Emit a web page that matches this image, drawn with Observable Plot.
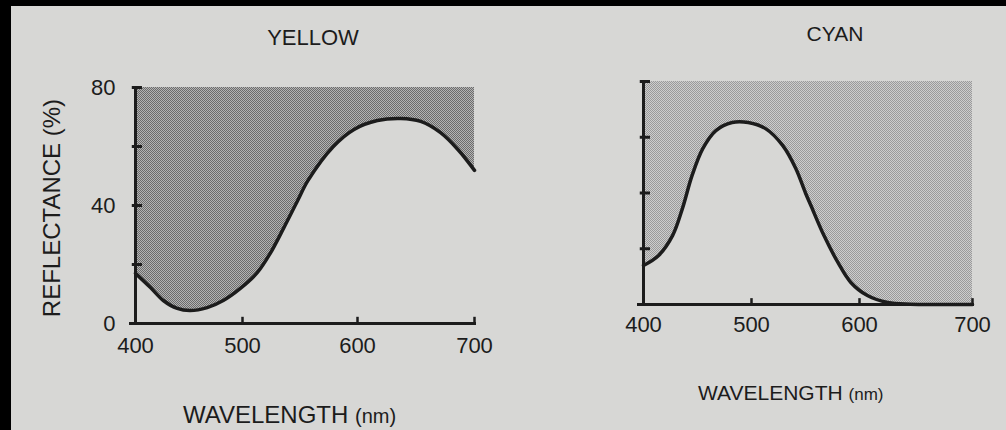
<!DOCTYPE html>
<html>
<head>
<meta charset="utf-8">
<script src="https://cdn.jsdelivr.net/npm/d3@7"></script>
<script src="https://cdn.jsdelivr.net/npm/@observablehq/plot@0.6"></script>
<style>
  html, body { margin: 0; padding: 0; background: #000; }
  #wrap { position: relative; width: 1006px; height: 430px; background: #000; overflow: hidden; }
  #page { position: absolute; left: 11px; top: 6px; right: 0; bottom: 0; background: #d7d7d5; }
  .chart { position: absolute; top: 0; }
  #labels { position: absolute; left: 0; top: 0; pointer-events: none; }
  #labels text { font-family: "Liberation Sans", Arial, Helvetica, sans-serif; fill: #1c1c1c; }
</style>
</head>
<body>
<div id="wrap">
  <div id="page"></div>
  <div id="yellow" class="chart" style="left:0px"></div>
  <div id="cyan" class="chart" style="left:500px"></div>
  <svg id="labels" width="1006" height="430">
    <text x="313" y="45" text-anchor="middle" font-size="22">YELLOW</text>
    <text x="835" y="41" text-anchor="middle" font-size="21">CYAN</text>
    <text transform="translate(60,208) rotate(-90)" text-anchor="middle" font-size="24">REFLECTANCE (%)</text>
    <text x="183" y="423" font-size="24">WAVELENGTH <tspan font-size="20">(nm)</tspan></text>
    <text x="698" y="400" font-size="21">WAVELENGTH <tspan font-size="17">(nm)</tspan></text>
  </svg>
</div>
<script>
// ---------- data ----------
const yellowNm   = [400, 414, 426, 439, 451, 467, 482, 498, 513, 524, 536, 548, 557, 579, 597, 617, 637, 654, 671, 686, 700];
const yellowRefl = [17, 12.2, 7.8, 5.1, 4.4, 5.4, 7.8, 11.9, 17.3, 23.7, 32.5, 41.7, 48.5, 60, 65.8, 68.8, 69.5, 68.5, 64.7, 58.9, 51.9];

const cyanNm   = [400, 414, 427, 436, 445, 455, 467, 482, 497, 513, 529, 541, 550, 555, 567, 580, 592, 607, 625, 645, 670, 700];
const cyanRefl = [14, 17.6, 24.8, 34.4, 46.3, 56, 62.4, 65.3, 65.3, 63.1, 57, 48.8, 40, 35.5, 24.8, 15.1, 7.9, 3.2, 0.7, 0.1, 0, 0];

const xTickValues   = [400, 500, 600, 700];
const xTickMarks    = [500, 600, 700];
const yTickMarks    = [0, 20, 40, 60, 80];
const yTickLabels   = [0, 40, 80];
const reflDomain    = [0, 80];

const yellowRows = yellowNm.map((nm, i) => ({nm, refl: yellowRefl[i]}));
const cyanRows   = cyanNm.map((nm, i) => ({nm, refl: cyanRefl[i]}));

// tick lengths, in data units
const yTickOut = 3, yTickIn = 6.5;  // nm
const xTickUp = 2.1;                // % reflectance

const ink = "#1c1c1c";
const fontFamily = "'Liberation Sans', Arial, Helvetica, sans-serif";

function addPattern(svg, id, dark, light) {
  const ns = "http://www.w3.org/2000/svg";
  const defs = document.createElementNS(ns, "defs");
  defs.innerHTML =
    `<pattern id="${id}" width="2" height="2" patternUnits="userSpaceOnUse">` +
    `<rect width="2" height="2" fill="${light}"/>` +
    `<rect x="0" y="0" width="1" height="1" fill="${dark}"/>` +
    `<rect x="1" y="1" width="1" height="1" fill="${dark}"/>` +
    `</pattern>`;
  svg.insertBefore(defs, svg.firstChild);
}

function makeChart({rows, width, margin, xRange, patternId, dark, light, showYLabels, xPad}) {
  const x0 = xTickValues[0];
  const marks = [
    Plot.areaY(rows, {x: "nm", y1: "refl", y2: () => reflDomain[1], fill: `url(#${patternId})`, curve: "catmull-rom"}),
    Plot.ruleX([x0], {stroke: ink, strokeWidth: 3}),
    Plot.ruleY([reflDomain[0]], {stroke: ink, strokeWidth: 3, insetLeft: -6, insetRight: -2}),
    // tick marks across the y axis
    Plot.ruleY(yTickMarks, {y: d => d, x1: x0 - yTickOut, x2: x0 + yTickIn, stroke: ink, strokeWidth: 3}),
    // upward tick marks on the x axis
    Plot.ruleX(xTickMarks, {x: d => d, y1: reflDomain[0], y2: reflDomain[0] + xTickUp, stroke: ink, strokeWidth: 2.5}),
    Plot.axisX({ticks: xTickValues, tickSize: 0, tickPadding: xPad, fill: ink, label: null}),
    Plot.line(rows, {x: "nm", y: "refl", stroke: ink, strokeWidth: 3.5, curve: "catmull-rom"})
  ];
  if (showYLabels) {
    marks.push(Plot.axisY({ticks: yTickLabels, tickSize: 0, tickPadding: 20, fill: ink, label: null}));
  }
  const svg = Plot.plot({
    width,
    height: 430,
    marginLeft: margin.left,
    marginRight: margin.right,
    marginTop: margin.top,
    marginBottom: margin.bottom,
    style: {background: "transparent", fontFamily, fontSize: "22px", color: ink},
    x: {type: "linear", domain: xTickValues, range: xRange, label: null},
    y: {type: "linear", domain: reflDomain, label: null, axis: showYLabels ? undefined : null},
    marks
  });
  addPattern(svg, patternId, dark, light);
  return svg;
}

const yellowSvg = makeChart({
  rows: yellowRows, width: 500,
  margin: {left: 135, right: 26, top: 87, bottom: 107},
  xRange: [135, 242, 357, 474],
  patternId: "dotsYellow", dark: "#6c6c6c", light: "#b4b4b4",
  showYLabels: true, xPad: 14
});
document.getElementById("yellow").appendChild(yellowSvg);

const cyanSvg = makeChart({
  rows: cyanRows, width: 506,
  margin: {left: 143, right: 34, top: 81, bottom: 126},
  xRange: [143, 251, 359, 472],
  patternId: "dotsCyan", dark: "#9a9a9a", light: "#cdcdcd",
  showYLabels: false, xPad: 12
});
document.getElementById("cyan").appendChild(cyanSvg);
</script>
</body>
</html>
